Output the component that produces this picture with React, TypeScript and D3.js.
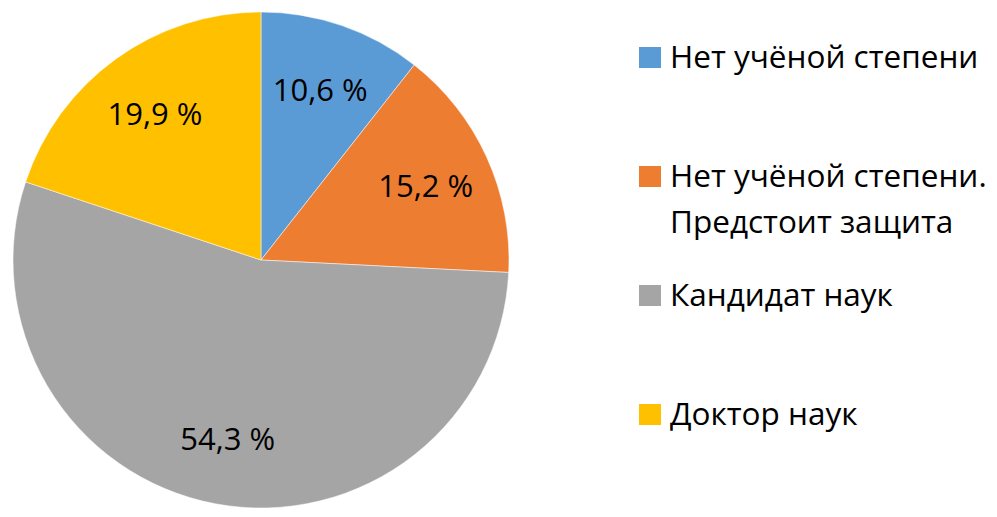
import * as d3 from "d3";

const categories = [
  ["Нет учёной степени"],
  ["Нет учёной степени.", "Предстоит защита"],
  ["Кандидат наук"],
  ["Доктор наук"],
];
const values = [10.6, 15.2, 54.3, 19.9];
const labels = ["10,6 %", "15,2 %", "54,3 %", "19,9 %"];
const colors = ["#5B9BD5", "#ED7D31", "#A5A5A5", "#FFC000"];

const W = 997;
const H = 517;
const cx = 261;
const cy = 260;
const R = 248;
const FONT = "'Open Sans', sans-serif";

export default function App() {
  const pie = d3
    .pie<number>()
    .sort(null)
    .value((d) => d);
  const arcs = pie(values);
  const arc = d3.arc<d3.PieArcDatum<number>>().innerRadius(0).outerRadius(R);
  const labelArc = d3
    .arc<d3.PieArcDatum<number>>()
    .innerRadius(R * 0.73)
    .outerRadius(R * 0.73);

  // legend rows
  const legendY = d3.scalePoint<number>().domain([0, 1, 2, 3]).range([57, 414]);

  return (
    <svg
      width={W}
      height={H}
      style={{ position: "absolute", left: 0, top: 0, background: "#fff" }}
    >
      <g transform={`translate(${cx},${cy})`}>
        {arcs.map((a, i) => (
          <path key={i} d={arc(a) || ""} fill={colors[i]} stroke="#fff" strokeWidth={0.5} />
        ))}
        {arcs.map((a, i) => {
          const [x, y] = labelArc.centroid(a);
          return (
            <text
              key={i}
              x={x}
              y={y}
              textAnchor="middle"
              dominantBaseline="central"
              fontFamily={FONT}
              fontSize={31}
              fill="#000"
            >
              {labels[i]}
            </text>
          );
        })}
      </g>
      <g>
        {categories.map((lines, i) => {
          const y = legendY(i) as number;
          return (
            <g key={i}>
              <rect x={639} y={y - 10} width={22} height={21} fill={colors[i]} />
              <text x={670} y={y + 11} fontFamily={FONT} fontSize={31.5} fill="#000">
                {lines.map((l, j) => (
                  <tspan key={j} x={670} dy={j === 0 ? 0 : 46}>
                    {l}
                  </tspan>
                ))}
              </text>
            </g>
          );
        })}
      </g>
    </svg>
  );
}
